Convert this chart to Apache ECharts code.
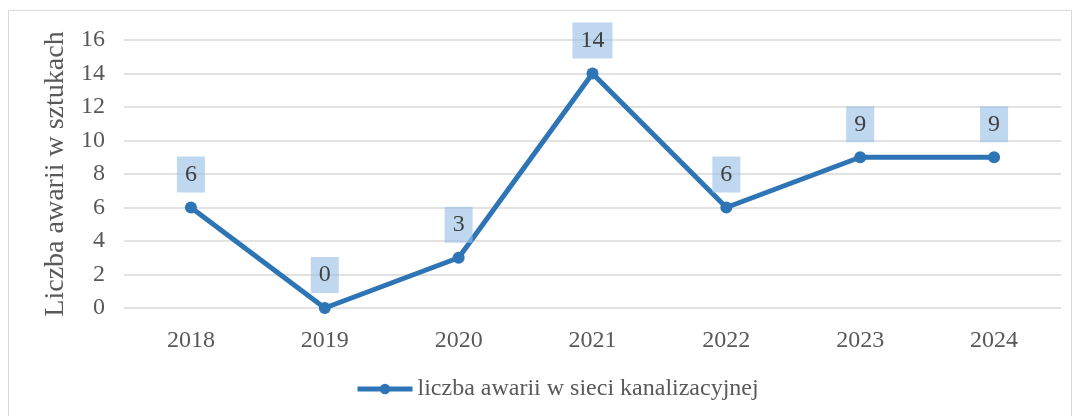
<!DOCTYPE html>
<html>
<head>
<meta charset="utf-8">
<script src="https://cdn.jsdelivr.net/npm/echarts@6/dist/echarts.min.js"></script>
<style>
  body { margin: 0; background: #fff; }
  #main { width: 1075px; height: 416px; }
</style>
</head>
<body>
<div id="main"></div>
<script>
const years = ['2018', '2019', '2020', '2021', '2022', '2023', '2024'];
const awarie = [6, 0, 3, 14, 6, 9, 9];
const seriesName = 'liczba awarii w sieci kanalizacyjnej';
const yTitle = 'Liczba awarii w sztukach';

const font = "'Liberation Serif', 'Times New Roman', serif";
const textColor = '#595959';

var chart = echarts.init(document.getElementById('main'));

var option = {
    animation: false,
    textStyle: { fontFamily: font },
    graphic: [{
        type: 'rect',
        shape: { x: 8.5, y: 10.5, width: 1063, height: 430 },
        style: { fill: 'none', stroke: '#d9d9d9', lineWidth: 1 },
        silent: true
    }],
    grid: { left: 124, right: 14, top: 40, bottom: 108 },
    legend: {
        left: 350,
        top: 372,
        itemWidth: 55,
        itemHeight: 13,
        itemGap: 4,
        lineStyle: { width: 5 },
        textStyle: { fontFamily: font, fontSize: 24, color: textColor },
        data: [seriesName]
    },
    xAxis: {
        type: 'category',
        data: years,
        axisLine: { show: false },
        axisTick: { show: false },
        axisLabel: { fontFamily: font, fontSize: 24, color: textColor, margin: 21 }
    },
    yAxis: {
        type: 'value',
        min: 0,
        max: 16,
        interval: 2,
        name: yTitle,
        nameLocation: 'middle',
        nameGap: 47,
        nameTextStyle: { fontFamily: font, fontSize: 28, color: textColor },
        axisLine: { show: false },
        axisTick: { show: false },
        axisLabel: { fontFamily: font, fontSize: 24, color: textColor, margin: 19 },
        splitLine: { lineStyle: { color: '#d9d9d9', width: 1.5 } }
    },
    series: [{
        name: seriesName,
        type: 'line',
        data: awarie,
        symbol: 'circle',
        symbolSize: 12,
        lineStyle: { color: '#2e75b6', width: 5 },
        itemStyle: { color: '#2e75b6' },
        label: {
            show: true,
            position: 'top',
            distance: 9,
            fontFamily: font,
            fontSize: 24,
            color: '#404040',
            lineHeight: 24,
            padding: [6, 8, 6, 8],
            backgroundColor: 'rgba(157,195,230,0.65)'
        }
    }]
};

chart.setOption(option);
</script>
</body>
</html>
